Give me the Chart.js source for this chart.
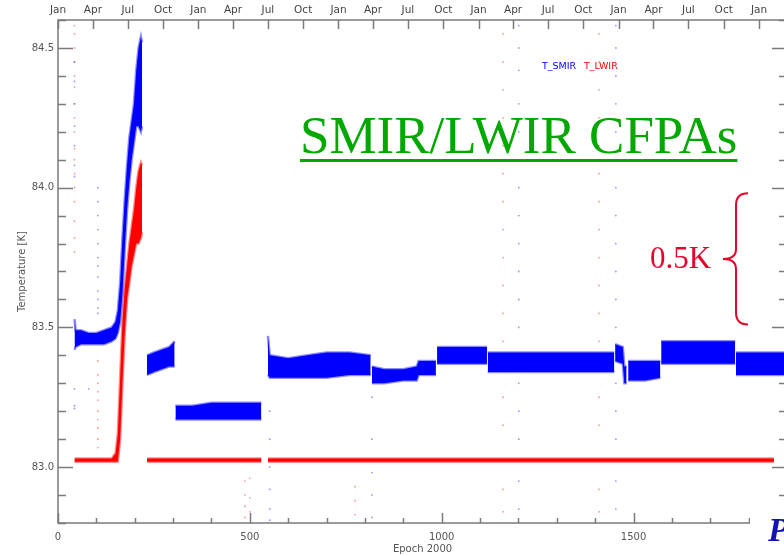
<!DOCTYPE html>
<html>
<head>
<meta charset="utf-8">
<script src="https://cdn.jsdelivr.net/npm/chart.js@4.4.1/dist/chart.umd.min.js"></script>
<style>
html, body { margin: 0; padding: 0; overflow: hidden; background: #fff; }
canvas { display: block; }
</style>
</head>
<body>
<canvas id="fpaChart" width="800" height="556"></canvas>
<script>
// CFPA temperatures, x = days since 1 Jan 2000 (null = gap between runs)
const smirDays = [
  43, 46, 60, 80, 100, 120, 140, 150, 156, 162, 168, 174, 180, 186, 192, 198, 204, 210, 216, 219, null,
  232, 250, 270, 290, 304, null,
  306, 350, 400, 450, 500, 530, null,
  547, 552, 600, 650, 700, 760, 815, null,
  818, 850, 900, 935, 940, 985, null,
  988, 1050, 1118, null,
  1120, 1300, 1450, null,
  1452, 1472, 1476, 1482, null,
  1486, 1530, 1570, null,
  1572, 1650, 1765, null,
  1767, 1850, 1900];
const smirHigh = [
  83.53, 83.49, 83.49, 83.48, 83.48, 83.49, 83.50, 83.52, 83.56, 83.66, 83.82, 83.96, 84.08, 84.18, 84.24, 84.30, 84.42, 84.50, 84.54, 84.52, null,
  83.40, 83.41, 83.42, 83.43, 83.45, null,
  83.22, 83.22, 83.23, 83.23, 83.23, 83.23, null,
  83.47, 83.40, 83.39, 83.40, 83.41, 83.41, 83.40, null,
  83.36, 83.35, 83.35, 83.36, 83.38, 83.38, null,
  83.43, 83.43, 83.43, null,
  83.41, 83.41, 83.41, null,
  83.44, 83.43, 83.36, 83.36, null,
  83.38, 83.38, 83.38, null,
  83.45, 83.45, 83.45, null,
  83.41, 83.41, 83.41];
const smirLow = [
  83.42, 83.43, 83.44, 83.44, 83.44, 83.44, 83.45, 83.46, 83.48, 83.52, 83.62, 83.78, 83.92, 84.02, 84.10, 84.16, 84.22, 84.22, 84.20, 84.22, null,
  83.33, 83.34, 83.35, 83.36, 83.36, null,
  83.17, 83.17, 83.17, 83.17, 83.17, 83.17, null,
  83.33, 83.32, 83.32, 83.32, 83.32, 83.33, 83.33, null,
  83.30, 83.30, 83.31, 83.31, 83.33, 83.33, null,
  83.37, 83.37, 83.37, null,
  83.34, 83.34, 83.34, null,
  83.38, 83.37, 83.30, 83.30, null,
  83.31, 83.31, 83.32, null,
  83.37, 83.37, 83.37, null,
  83.33, 83.33, 83.33];

const lwirDays = [
  43, 140, 150, 156, 162, 168, 174, 180, 186, 192, 198, 204, 210, 216, 219, null,
  232, 530, null,
  547, 1866];
const lwirHigh = [
  83.031, 83.031, 83.05, 83.12, 83.32, 83.52, 83.64, 83.72, 83.80, 83.86, 83.92, 84.00, 84.06, 84.09, 84.08, null,
  83.031, 83.031, null,
  83.031, 83.031];
const lwirLow = [
  83.019, 83.019, 83.019, 83.02, 83.10, 83.30, 83.48, 83.60, 83.66, 83.72, 83.76, 83.80, 83.80, 83.82, 83.84, null,
  83.019, 83.019, null,
  83.019, 83.019];

// isolated samples (dotted streaks)
const smirStrayDays = [43, 80, 104, 552, 818, 1201, 1454];
const smirStrayTemps = [
  [84.45, 84.38, 84.30, 84.22, 84.15, 84.08, 84.04, 83.28, 83.22, 83.21],
  [83.28],
  [84.00, 83.95, 83.90, 83.85, 83.80, 83.75, 83.72, 83.68, 83.63, 83.60, 83.57, 83.55],
  [83.20, 83.10, 83.00, 82.92, 82.85, 82.81],
  [83.25, 83.10, 82.98, 82.90, 82.82],
  [84.58, 84.50, 84.42, 84.30, 84.20, 84.10, 84.00, 83.90, 83.80, 83.70, 83.60, 83.50, 83.30, 83.20, 83.10, 82.95, 82.85],
  [84.58, 84.50, 84.40, 84.30, 84.20, 84.10, 84.00, 83.90, 83.80, 83.70, 83.60, 83.50, 83.30, 83.20, 83.10, 82.95, 82.85]
];
const lwirStrayDays = [43, 104, 487, 500, 774, 1160, 1410];
const lwirStrayTemps = [
  [84.58, 84.55, 84.50, 84.45, 84.40, 84.36, 84.30, 84.25, 84.20, 84.14, 84.10, 84.05, 84.00, 83.95, 83.88, 83.82, 83.77],
  [83.38, 83.33, 83.30, 83.27, 83.24, 83.20, 83.17, 83.14, 83.10, 83.07],
  [82.95, 82.90, 82.86, 82.82],
  [82.96, 82.89, 82.84],
  [82.93, 82.88, 82.83],
  [84.55, 84.45, 84.35, 84.25, 84.15, 84.05, 83.95, 83.85, 83.75, 83.65, 83.55, 83.45, 83.35, 83.25, 83.15, 82.92, 82.84],
  [84.55, 84.45, 84.35, 84.25, 84.15, 84.05, 83.95, 83.85, 83.75, 83.65, 83.55, 83.45, 83.35, 83.25, 83.15, 82.92, 82.84]
];

// axis labels
const epochTicks = [0, 500, 1000, 1500];
const tempTicks = [83.0, 83.5, 84.0, 84.5];
const monthDays = [0, 91, 182, 274, 366, 456, 547, 639, 731, 821, 912, 1004, 1096, 1186, 1277, 1369, 1461, 1552, 1643, 1735, 1827];
const monthNames = ['Jan', 'Apr', 'Jul', 'Oct', 'Jan', 'Apr', 'Jul', 'Oct', 'Jan', 'Apr', 'Jul', 'Oct',
  'Jan', 'Apr', 'Jul', 'Oct', 'Jan', 'Apr', 'Jul', 'Oct', 'Jan'];

const SMIR_BLUE = '#0000ff';
const LWIR_RED = '#ff0000';
const AXIS_GREY = '#7a7a7a';
const LABEL_GREY = '#555555';

// split the null separated lists into upper/lower line pairs filled between;
// the wide pale border gives the noisy edge of the sample cloud
function bandSets(days, high, low, color, halo, order) {
  const sets = [];
  let hi = [], lo = [];
  const flush = () => {
    if (!hi.length) return;
    sets.push({data: hi, borderColor: halo, backgroundColor: color, borderWidth: 2.5, pointRadius: 0, fill: false, order: order});
    sets.push({data: lo, borderColor: halo, backgroundColor: color, borderWidth: 2.5, pointRadius: 0, fill: '-1', order: order});
    hi = []; lo = [];
  };
  days.forEach((d, i) => {
    if (d === null) { flush(); return; }
    hi.push({x: d, y: high[i]});
    lo.push({x: d, y: low[i]});
  });
  flush();
  return sets;
}

function straySet(days, temps, color, order) {
  const pts = [];
  days.forEach((d, i) => temps[i].forEach(t => pts.push({x: d, y: t})));
  return {data: pts, showLine: false, pointRadius: 0.9, pointBorderWidth: 0,
    pointBackgroundColor: color, borderColor: color, order: order};
}

const datasets = [
  ...bandSets(smirDays, smirHigh, smirLow, SMIR_BLUE, 'rgba(0,0,255,0.45)', 2),
  ...bandSets(lwirDays, lwirHigh, lwirLow, LWIR_RED, 'rgba(255,0,0,0.45)', 1),
  straySet(smirStrayDays, smirStrayTemps, 'rgba(60,60,255,0.55)', 3),
  straySet(lwirStrayDays, lwirStrayTemps, 'rgba(255,60,60,0.55)', 3)
];

// IDL style box: inward ticks on all four sides
const idlAxes = {
  id: 'idlAxes',
  beforeDatasetsDraw(chart) {
    const {ctx, chartArea: a, scales} = chart;
    const x = scales.x, y = scales.y;
    ctx.save();
    ctx.strokeStyle = AXIS_GREY;
    ctx.lineWidth = 1.5;
    ctx.strokeRect(a.left, a.top, a.right - a.left, a.bottom - a.top);
    ctx.beginPath();
    for (let d = 0; d <= x.max; d += 100) {
      const px = Math.round(x.getPixelForValue(d)) + 0.5;
      const len = d % 500 === 0 ? 10 : 5;
      ctx.moveTo(px, a.bottom); ctx.lineTo(px, a.bottom - len);
    }
    monthDays.forEach(d => {
      const px = Math.round(x.getPixelForValue(d)) + 0.5;
      ctx.moveTo(px, a.top); ctx.lineTo(px, a.top + 9);
    });
    for (let k = 0; k <= 18; k++) {
      const t = 82.8 + k * 0.1;
      const py = Math.round(y.getPixelForValue(t)) + 0.5;
      const major = tempTicks.some(v => Math.abs(v - t) < 1e-6);
      const len = major ? 15 : 8;
      ctx.moveTo(a.left, py); ctx.lineTo(a.left + len, py);
      ctx.moveTo(a.right, py); ctx.lineTo(a.right - len, py);
    }
    ctx.stroke();
    ctx.restore();
  }
};

// slide annotations placed over the plot
const slideNotes = {
  id: 'slideNotes',
  afterDraw(chart) {
    const {ctx, scales} = chart;
    const y = scales.y;
    ctx.save();

    ctx.font = '9.5px "DejaVu Sans"';
    ctx.textBaseline = 'alphabetic';
    ctx.fillStyle = SMIR_BLUE;
    ctx.fillText('T_SMIR', 542, 69);
    ctx.fillStyle = LWIR_RED;
    ctx.fillText('T_LWIR', 584, 69);

    ctx.font = '53px "Liberation Serif"';
    ctx.fillStyle = '#00a800';
    const title = 'SMIR/LWIR CFPAs';
    ctx.fillText(title, 300, 153);
    ctx.fillRect(300, 159, ctx.measureText(title).width, 3);

    // brace marking half a kelvin
    const top = y.getPixelForValue(83.98), bot = y.getPixelForValue(83.51);
    const mid = (top + bot) / 2, bx = 736;
    ctx.strokeStyle = '#e8002a';
    ctx.lineWidth = 2;
    ctx.beginPath();
    ctx.moveTo(bx + 12, top);
    ctx.quadraticCurveTo(bx, top, bx, top + 12);
    ctx.lineTo(bx, mid - 10);
    ctx.quadraticCurveTo(bx, mid, bx - 13, mid);
    ctx.quadraticCurveTo(bx, mid, bx, mid + 10);
    ctx.lineTo(bx, bot - 12);
    ctx.quadraticCurveTo(bx, bot, bx + 12, bot);
    ctx.stroke();
    ctx.font = '31px "Liberation Serif"';
    ctx.fillStyle = '#e8002a';
    ctx.fillText('0.5K', 650, 268);

    ctx.fillStyle = '#ffffff';
    ctx.fillRect(750, 504, 60, 60);
    ctx.font = 'italic bold 34px "Liberation Serif"';
    ctx.fillStyle = '#1414b4';
    ctx.fillText('P', 768, 541);
    ctx.restore();
  }
};

const labelFont = {family: '"DejaVu Sans"', size: 10};

new Chart(document.getElementById('fpaChart'), {
  type: 'line',
  data: {datasets: datasets},
  options: {
    responsive: false,
    animation: false,
    layout: {padding: {left: 0, right: 13, top: 0, bottom: 0}},
    plugins: {legend: {display: false}, tooltip: {enabled: false}},
    elements: {line: {tension: 0}},
    scales: {
      x: {
        type: 'linear', position: 'bottom', min: 0, max: 1900,
        grid: {display: false, drawTicks: false}, border: {display: false},
        afterBuildTicks: s => { s.ticks = epochTicks.map(v => ({value: v})); },
        afterFit: s => { s.height = 33; },
        ticks: {font: labelFont, color: LABEL_GREY, padding: 8, maxRotation: 0, autoSkip: false,
          callback: v => String(v)},
        title: {display: true, text: 'Epoch 2000', font: labelFont, color: LABEL_GREY, padding: {top: 0, bottom: 1}}
      },
      x2: {
        type: 'linear', position: 'top', min: 0, max: 1900,
        grid: {display: false, drawTicks: false}, border: {display: false},
        afterBuildTicks: s => { s.ticks = monthDays.map(v => ({value: v})); },
        afterFit: s => { s.height = 20; },
        ticks: {font: {family: '"DejaVu Sans"', size: 10.5}, color: '#444444', padding: 3, maxRotation: 0, autoSkip: false,
          callback: (v, i) => monthNames[i]}
      },
      y: {
        type: 'linear', position: 'left', min: 82.8, max: 84.6,
        grid: {display: false, drawTicks: false}, border: {display: false},
        afterBuildTicks: s => { s.ticks = tempTicks.map(v => ({value: v})); },
        afterFit: s => { s.width = 58; },
        ticks: {font: labelFont, color: LABEL_GREY, padding: 4, callback: v => v.toFixed(1)},
        title: {display: true, text: 'Temperature [K]', font: labelFont, color: LABEL_GREY, padding: {top: 16, bottom: 0}}
      }
    }
  },
  plugins: [idlAxes, slideNotes]
});
</script>
</body>
</html>
